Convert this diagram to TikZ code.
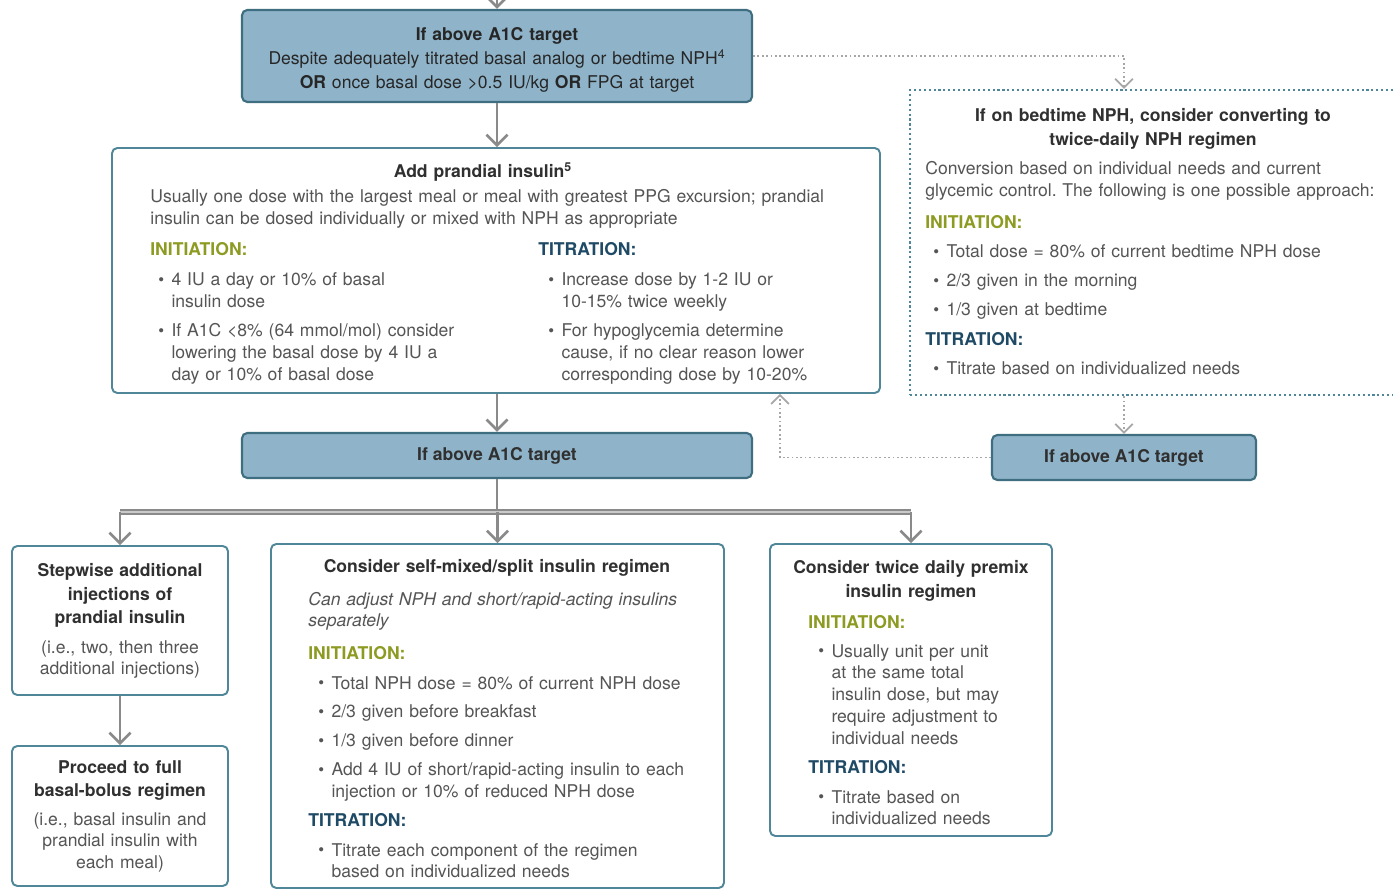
\documentclass[tikz,border=0pt]{standalone}
\usepackage{fontspec}
\setmainfont{TeX Gyre Heros}
\usetikzlibrary{arrows.meta}

\definecolor{boxfill}{HTML}{8FB4CA}
\definecolor{boxedge}{HTML}{3E6E80}
\definecolor{tealedge}{HTML}{4F8698}
\definecolor{arrgray}{HTML}{8A8A8A}
\definecolor{initgreen}{HTML}{8E9B22}
\definecolor{titrblue}{HTML}{1F4A66}
\definecolor{bodytext}{HTML}{555555}
\definecolor{headtext}{HTML}{303030}

\newcommand{\px}{0.02cm}
\newcommand{\bu}{\makebox[7.5pt][l]{\raisebox{0.05ex}{\scalebox{0.95}{\textbullet}}}}
\newcommand{\ct}{\hspace*{7.5pt}}
\newcommand{\gap}{\\[4pt]}
\frenchspacing

\begin{document}
\begin{tikzpicture}[x=\px, y=-\px,
	bluebox/.style={draw=boxedge, fill=boxfill, line width=1.2pt, rounded corners=3pt,
		font=\fontsize{10}{13}\selectfont\bfseries, text=headtext},
	whitebox/.style={draw=tealedge, fill=white, line width=1.1pt, rounded corners=3pt},
	dotbox/.style={draw=tealedge, line width=1.4pt, dash pattern=on 1.2pt off 1.6pt},
	arr/.style={draw=arrgray, line width=1.5pt, -{Straight Barb[length=6pt,width=12pt]}},
	darr/.style={draw=arrgray!75, line width=1pt, dash pattern=on 1pt off 1.5pt,
		-{Straight Barb[length=5pt,width=10pt]}},
	bar/.style={draw=arrgray, line width=1.1pt, double=arrgray!45, double distance=1.3pt},
	body/.style={font=\fontsize{10}{12.5}\selectfont, text=bodytext, inner sep=0pt,
		anchor=base west, align=left, text width=#1*\px},
	body/.default=480,
	bodyc/.style={body=#1, anchor=base, align=center},
	bodyc/.default=210,
	head/.style={font=\fontsize{10}{13.3}\selectfont\bfseries, text=headtext, inner sep=0pt,
		anchor=base, align=center, text width=#1*\px},
	head/.default=460,
	init/.style={font=\fontsize{10}{12.5}\selectfont\bfseries, text=initgreen, inner sep=0pt, anchor=base west},
	titr/.style={font=\fontsize{10}{12.5}\selectfont\bfseries, text=titrblue, inner sep=0pt, anchor=base west}]

	\useasboundingbox ( 0, 0 ) rectangle ( 1393, 891 );

	% boxes
	\node [bluebox, minimum width=510*\px, minimum height=92*\px] (top) at ( 497, 56 ) {};
	\node [whitebox, minimum width=768*\px, minimum height=245*\px] (prand) at ( 496, 270.5 ) {};
	\node [dotbox, minimum width=490*\px, minimum height=305*\px] (conv) at ( 1155, 242.5 ) {};
	\node [bluebox, minimum width=510*\px, minimum height=45*\px] (above) at ( 497, 455.5 ) {If above A1C target};
	\node [bluebox, minimum width=264*\px, minimum height=45*\px] (aboveR) at ( 1124, 457.5 ) {If above A1C target};
	\node [whitebox, minimum width=216*\px, minimum height=149*\px] (step) at ( 120, 620.5 ) {};
	\node [whitebox, minimum width=216*\px, minimum height=140*\px] (full) at ( 120, 816 ) {};
	\node [whitebox, minimum width=453*\px, minimum height=344*\px] (split) at ( 497.5, 716 ) {};
	\node [whitebox, minimum width=282*\px, minimum height=292*\px] (premix) at ( 911, 690 ) {};

	% верхний блок
	\node [head=500, font=\fontsize{10}{13.6}\selectfont\bfseries, text=black!85] (topt) at ( 497, 41 )
		{If above A1C target\\ \mdseries Despite adequately titrated basal analog or bedtime NPH\textsuperscript{4}\\
		\textbf{OR} once basal dose >0.5 IU/kg \textbf{OR} FPG at target};

	% prandial insulin
	\node [head] (prandt) at ( 483, 178 ) {Add prandial insulin\textsuperscript{5}};
	\node [body=725] (prandp) at ( 150, 203 )
		{Usually one dose with the largest meal or meal with greatest PPG excursion; prandial\\
		insulin can be dosed individually or mixed with NPH as appropriate};
	\node [init] (prandi) at ( 150, 256 ) {INITIATION:};
	\node [titr] (prandtt) at ( 538, 256 ) {TITRATION:};
	\node [body=370] (prandil) at ( 158, 286 )
		{\bu 4 IU a day or 10\% of basal\\ \ct insulin dose\gap
		\bu If A1C <8\% (64 mmol/mol) consider\\ \ct lowering the basal dose by 4 IU a\\ \ct day or 10\% of basal dose};
	\node [body=325] (prandtl) at ( 548, 286 )
		{\bu Increase dose by 1-2 IU or\\ \ct 10-15\% twice weekly\gap
		\bu For hypoglycemia determine\\ \ct cause, if no clear reason lower\\ \ct corresponding dose by 10-20\%};

	% twice-daily NPH
	\node [head] (convt) at ( 1153, 122 ) {If on bedtime NPH, consider converting to\\ twice-daily NPH regimen};
	\node [body] (convp) at ( 925, 175 )
		{Conversion based on individual needs and current\\ glycemic control. The following is one possible approach:};
	\node [init] (convi) at ( 925, 229 ) {INITIATION:};
	\node [body] (convl) at ( 933, 258 )
		{\bu Total dose = 80\% of current bedtime NPH dose\gap \bu 2/3 given in the morning\gap \bu 1/3 given at bedtime};
	\node [titr] (convtt) at ( 925, 346 ) {TITRATION:};
	\node [body] (convtl) at ( 933, 375 ) {\bu Titrate based on individualized needs};

	% stepwise / full basal-bolus
	\node [head=210] (stept) at ( 120, 577 ) {Stepwise additional\\ injections of\\ prandial insulin};
	\node [bodyc] (stepn) at ( 120, 653 ) {(i.e., two, then three\\ additional injections)};
	\node [head=210] (fullt) at ( 120, 773 ) {Proceed to full\\ basal-bolus regimen};
	\node [bodyc] (fulln) at ( 120, 825 ) {(i.e., basal insulin and\\ prandial insulin with\\ each meal)};

	% self-mixed/split
	\node [head] (splitt) at ( 497, 573 ) {Consider self-mixed/split insulin regimen};
	\node [body=410, font=\fontsize{10}{12.5}\selectfont\itshape] (splitp) at ( 308, 605 )
		{Can adjust NPH and short/rapid-acting insulins\\ separately};
	\node [init] (spliti) at ( 308, 659 ) {INITIATION:};
	\node [body=410] (splitl) at ( 318, 689 )
		{\bu Total NPH dose = 80\% of current NPH dose\gap \bu 2/3 given before breakfast\gap
		\bu 1/3 given before dinner\gap \bu Add 4 IU of short/rapid-acting insulin to each\\
		\ct injection or 10\% of reduced NPH dose};
	\node [titr] (splittt) at ( 308, 826 ) {TITRATION:};
	\node [body=410] (splittl) at ( 318, 856 )
		{\bu Titrate each component of the regimen\\ \ct based on individualized needs};

	% premix
	\node [head=270] (premixt) at ( 911, 574 ) {Consider twice daily premix\\ insulin regimen};
	\node [init] (premixi) at ( 808, 628 ) {INITIATION:};
	\node [body=230] (premixl) at ( 818, 657 )
		{\bu Usually unit per unit\\ \ct at the same total\\ \ct insulin dose, but may\\ \ct require adjustment to\\ \ct individual needs};
	\node [titr] (premixtt) at ( 808, 773 ) {TITRATION:};
	\node [body=230] (premixtl) at ( 818, 803 ) {\bu Titrate based on\\ \ct individualized needs};

	% стрелки
	\coordinate (entry) at ( 497, 0 );
	\coordinate (fork) at ( 0, 512 );
	\coordinate (back) at ( 780, 0 );
	\draw [arr] (entry) -- (top.north);
	\draw [arr] (top.south) -- (top.south |- prand.north);
	\draw [darr] (top.east) -| (aboveR.north |- conv.north);
	\draw [darr] (aboveR.north |- conv.south) -- (aboveR.north);
	\draw [darr] (aboveR.west) -| (back |- prand.south);
	\draw [arr] (above.north |- prand.south) -- (above.north);
	\draw [arr, -] (above.south) -- (above.south |- fork);
	\draw [bar] (step.north |- fork) -- (premix.north |- fork);
	\foreach \b in {step, split, premix}
		\draw [arr] (\b.north |- fork) -- (\b.north);
	\draw [arr] (step.south) -- (full.north);
\end{tikzpicture}
\end{document}
